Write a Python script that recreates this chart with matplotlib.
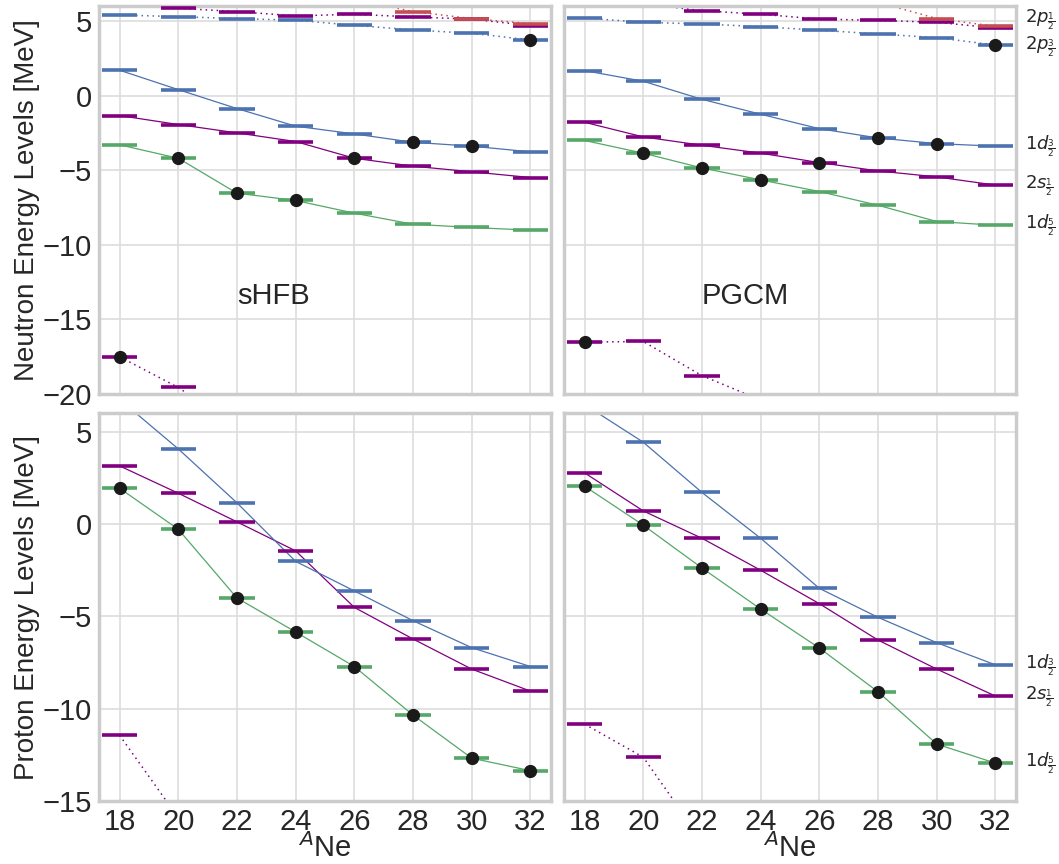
import numpy as np
import matplotlib
matplotlib.use('Agg')
import matplotlib.pyplot as plt

plt.rcParams['font.family'] = ['Liberation Sans', 'DejaVu Sans']
plt.rcParams['mathtext.fontset'] = 'dejavusans'

nan = np.nan
A = np.array([18, 20, 22, 24, 26, 28, 30, 32])

# neutron levels, sHFB
n_hfb_1d52 = [-3.30, -4.20, -6.54, -7.03, -7.88, -8.62, -8.84, -9.02]
n_hfb_2s12 = [-1.34, -1.94, -2.50, -3.08, -4.20, -4.73, -5.11, -5.49]
n_hfb_1d32 = [1.70, 0.40, -0.87, -2.05, -2.57, -3.13, -3.39, -3.77]
n_hfb_2p32 = [5.40, 5.29, 5.16, 5.05, 4.71, 4.40, 4.17, 3.73]
n_hfb_2p12 = [6.60, 5.85, 5.63, 5.34, 5.45, 5.27, 5.12, 4.69]
n_hfb_1f72 = [nan, nan, nan, nan, 6.45, 5.63, 5.16, 4.82]
n_hfb_1p12 = [-17.50, -19.56, -22.2, nan, nan, nan, nan, nan]
n_hfb_fermi = ['1p12', '1d52', '1d52', '1d52', '2s12', '1d32', '1d32', '2p32']

# neutron levels, PGCM
n_pgcm_1d52 = [-3.01, -3.86, -4.85, -5.65, -6.43, -7.35, -8.44, -8.69]
n_pgcm_2s12 = [-1.79, -2.77, -3.33, -3.86, -4.49, -5.05, -5.45, -6.00]
n_pgcm_1d32 = [1.67, 0.96, -0.25, -1.25, -2.22, -2.84, -3.22, -3.39]
n_pgcm_2p32 = [5.20, 4.91, 4.80, 4.62, 4.38, 4.13, 3.88, 3.39]
n_pgcm_2p12 = [nan, 6.15, 5.69, 5.45, 5.13, 5.04, 4.91, 4.53]
n_pgcm_1f72 = [nan, nan, nan, nan, nan, 6.26, 5.16, 4.64]
n_pgcm_1p12 = [-16.52, -16.48, -18.77, -20.4, nan, nan, nan, nan]
n_pgcm_fermi = ['1p12', '1d52', '1d52', '1d52', '2s12', '1d32', '1d32', '2p32']

# proton levels, sHFB
p_hfb_1d52 = [1.93, -0.29, -4.01, -5.85, -7.72, -10.35, -12.68, -13.36]
p_hfb_2s12 = [3.14, 1.66, 0.11, -1.46, -4.52, -6.23, -7.86, -9.05]
p_hfb_1d32 = [6.74, 4.06, 1.14, -2.03, -3.63, -5.24, -6.70, -7.72]
p_hfb_1p12 = [-11.44, -15.9, nan, nan, nan, nan, nan, nan]
p_hfb_fermi = ['1d52'] * 8

# proton levels, PGCM
p_pgcm_1d52 = [2.04, -0.07, -2.39, -4.61, -6.72, -9.09, -11.92, -12.95]
p_pgcm_2s12 = [2.76, 0.70, -0.78, -2.51, -4.32, -6.29, -7.86, -9.32]
p_pgcm_1d32 = [6.46, 4.42, 1.70, -0.78, -3.49, -5.06, -6.43, -7.63]
p_pgcm_1p12 = [-10.84, -12.63, -17.15, nan, nan, nan, nan, nan]
p_pgcm_fermi = ['1d52'] * 8

blue, green, purple, red = '#4C72B0', '#55A868', 'purple', '#C44E52'
style = {'1d52': (green, '-'), '2s12': (purple, '-'), '1d32': (blue, '-'),
         '2p32': (blue, ':'), '2p12': (purple, ':'), '1f72': (red, ':'),
         '1p12': (purple, ':')}
order = ['1p12', '1d52', '2s12', '1d32', '2p32', '2p12', '1f72']
names = {'1d52': r'$1d_{\frac{5}{2}}$', '2s12': r'$2s_{\frac{1}{2}}$',
         '1d32': r'$1d_{\frac{3}{2}}$', '2p32': r'$2p_{\frac{3}{2}}$',
         '2p12': r'$2p_{\frac{1}{2}}$'}
# small vertical nudges so the two 2p labels do not collide
nudge = {'2p12': 0.6, '2p32': -0.1}

panels = [
    [({'1d52': n_hfb_1d52, '2s12': n_hfb_2s12, '1d32': n_hfb_1d32, '2p32': n_hfb_2p32,
       '2p12': n_hfb_2p12, '1f72': n_hfb_1f72, '1p12': n_hfb_1p12}, n_hfb_fermi),
     ({'1d52': n_pgcm_1d52, '2s12': n_pgcm_2s12, '1d32': n_pgcm_1d32, '2p32': n_pgcm_2p32,
       '2p12': n_pgcm_2p12, '1f72': n_pgcm_1f72, '1p12': n_pgcm_1p12}, n_pgcm_fermi)],
    [({'1d52': p_hfb_1d52, '2s12': p_hfb_2s12, '1d32': p_hfb_1d32, '1p12': p_hfb_1p12}, p_hfb_fermi),
     ({'1d52': p_pgcm_1d52, '2s12': p_pgcm_2s12, '1d32': p_pgcm_1d32, '1p12': p_pgcm_1p12}, p_pgcm_fermi)],
]


def draw_panel(ax, levels, fermi):
    for name in order:
        if name not in levels:
            continue
        E = np.array(levels[name], float)
        col, ls = style[name]
        if ls == '-':
            ax.plot(A, E, color=col, lw=0.9, zorder=2)
        else:
            ax.plot(A, E, color=col, lw=1.1, dashes=(1, 2.6), zorder=2)
        ok = np.isfinite(E)
        ax.hlines(E[ok], A[ok] - 0.6, A[ok] + 0.6, color=col, lw=2.6, zorder=3)
    fe = [levels[n][i] for i, n in enumerate(fermi)]
    ax.plot(A, fe, 'o', color='#1a1a1a', ms=8.5, ls='none', zorder=4)


fig, axs = plt.subplots(2, 2, figsize=(10.59, 8.64), dpi=100, sharex=True, sharey='row')
fig.subplots_adjust(left=0.0935, right=0.9594, top=0.993, bottom=0.0729,
                    wspace=0.029, hspace=0.049)

for r in range(2):
    for c in range(2):
        ax = axs[r, c]
        levels, fermi = panels[r][c]
        draw_panel(ax, levels, fermi)
        ax.grid(True, color='#dddddd', lw=1.2)
        ax.set_axisbelow(True)
        for sp in ax.spines.values():
            sp.set_color('#cccccc')
            sp.set_linewidth(2.5)
        ax.tick_params(length=0, labelsize=21, pad=5, colors='#262626')
        # labels of the sd-shell (and 2p) levels on the right side
        if c == 1:
            for name in ['1d52', '2s12', '1d32', '2p32', '2p12']:
                if name not in levels:
                    continue
                y = levels[name][-1] + nudge.get(name, 0)
                ax.text(33.0, y, names[name], fontsize=13, va='center', ha='left',
                        clip_on=False, color='#262626')

axs[0, 0].set_ylim(-20, 6)
axs[1, 0].set_ylim(-15, 6)
axs[0, 0].set_yticks([-20, -15, -10, -5, 0, 5])
axs[1, 0].set_yticks([-15, -10, -5, 0, 5])
axs[0, 0].set_xlim(17.3, 32.7)
axs[0, 0].set_xticks(np.arange(18, 33, 2))

axs[0, 0].set_ylabel('Neutron Energy Levels [MeV]', fontsize=20, color='#262626', labelpad=2)
axs[1, 0].set_ylabel('Proton Energy Levels [MeV]', fontsize=20, color='#262626', labelpad=2)
for ax in axs[1]:
    ax.set_xlabel('$^{A}$Ne', fontsize=21, color='#262626', labelpad=-2)

axs[0, 0].text(22, -14, 'sHFB', fontsize=21, color='#262626')
axs[0, 1].text(22, -14, 'PGCM', fontsize=21, color='#262626')

fig.savefig('out.png', dpi=100)
